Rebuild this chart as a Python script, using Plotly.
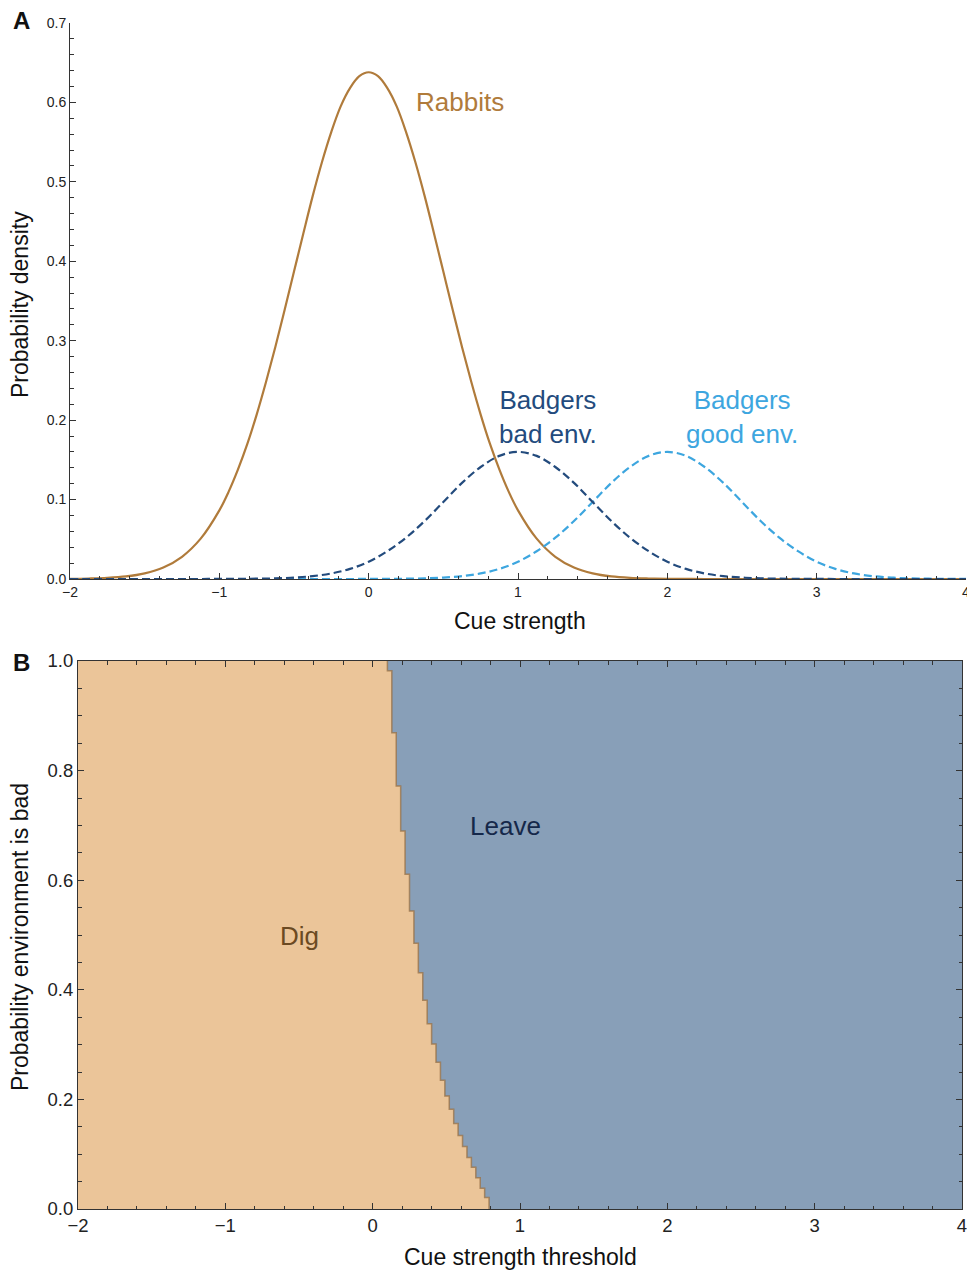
import plotly.graph_objects as go

# ---------------- Panel A data ----------------
rabbit_cue = [-2.0, -1.875, -1.75, -1.625, -1.5, -1.375, -1.25, -1.125, -1.0,
              -0.9375, -0.875, -0.8125, -0.75, -0.6875, -0.625, -0.5625, -0.5,
              -0.4375, -0.375, -0.3125, -0.25, -0.1875, -0.125, -0.0625, 0.0,
              0.0625, 0.125, 0.1875, 0.25, 0.3125, 0.375, 0.4375, 0.5,
              0.5625, 0.625, 0.6875, 0.75, 0.8125, 0.875, 0.9375, 1.0,
              1.125, 1.25, 1.375, 1.5, 1.625, 1.75, 1.875, 2.0,
              2.25, 2.5, 2.75, 3.0, 3.25, 3.5, 3.75, 4.0]
rabbits = [0.0002, 0.0006, 0.0014, 0.0032, 0.0071, 0.0145, 0.0280, 0.0508, 0.0864,
           0.110, 0.138, 0.170, 0.207, 0.248, 0.292, 0.339, 0.387,
           0.435, 0.482, 0.525, 0.563, 0.595, 0.618, 0.633, 0.638,
           0.633, 0.618, 0.595, 0.563, 0.525, 0.482, 0.435, 0.387,
           0.339, 0.292, 0.248, 0.207, 0.170, 0.138, 0.110, 0.0864,
           0.0508, 0.0280, 0.0145, 0.0071, 0.0032, 0.0014, 0.0006, 0.0002,
           0, 0, 0, 0, 0, 0, 0, 0]

cue = [-2.0, -1.875, -1.75, -1.625, -1.5, -1.375, -1.25, -1.125,
       -1.0, -0.875, -0.75, -0.625, -0.5, -0.375, -0.25, -0.125,
       0.0, 0.125, 0.25, 0.375, 0.5, 0.625, 0.75, 0.875,
       1.0, 1.125, 1.25, 1.375, 1.5, 1.625, 1.75, 1.875,
       2.0, 2.125, 2.25, 2.375, 2.5, 2.625, 2.75, 2.875,
       3.0, 3.125, 3.25, 3.375, 3.5, 3.625, 3.75, 3.875, 4.0]

badgers_bad = [0, 0, 0, 0, 0, 0, 0, 0,
               0.0001, 0.0001, 0.0004, 0.0008, 0.0018, 0.0036, 0.0070, 0.0127,
               0.0217, 0.035, 0.052, 0.073, 0.097, 0.121, 0.141, 0.155,
               0.160, 0.155, 0.141, 0.121, 0.097, 0.073, 0.052, 0.035,
               0.0217, 0.0127, 0.0070, 0.0036, 0.0018, 0.0008, 0.0004, 0.0001,
               0.0001, 0, 0, 0, 0, 0, 0, 0, 0]

badgers_good = [0, 0, 0, 0, 0, 0, 0, 0,
                0, 0, 0, 0, 0, 0, 0, 0,
                0.0001, 0.0001, 0.0004, 0.0008, 0.0018, 0.0036, 0.0070, 0.0127,
                0.0217, 0.035, 0.052, 0.073, 0.097, 0.121, 0.141, 0.155,
                0.160, 0.155, 0.141, 0.121, 0.097, 0.073, 0.052, 0.035,
                0.0217, 0.0127, 0.0070, 0.0036, 0.0018, 0.0008, 0.0004, 0.0001, 0.0001]

# ---------------- Panel B data ----------------
p_breaks = [0.0, 0.021, 0.038, 0.057, 0.076, 0.094, 0.114, 0.134, 0.156,
            0.182, 0.206, 0.235, 0.268, 0.301, 0.338, 0.381, 0.431, 0.485,
            0.544, 0.611, 0.690, 0.772, 0.869, 0.982, 1.0]
thresholds = [0.79, 0.76, 0.73, 0.70, 0.67, 0.64, 0.61, 0.58, 0.55, 0.52,
              0.49, 0.46, 0.43, 0.40, 0.37, 0.34, 0.31, 0.28, 0.25, 0.22,
              0.19, 0.16, 0.13, 0.10]

bx, by = [], []
for i, t in enumerate(thresholds):
    bx += [t, t]
    by += [p_breaks[i], p_breaks[i + 1]]

FONT = "Liberation Sans, Arial, Helvetica, sans-serif"
C_RAB = "#B07B3B"
C_BAD = "#234B7D"
C_GOOD = "#3DA6DF"
C_DIG = "#EBC599"
C_LEAVE = "#889FB8"
AX = "#333333"

fig = go.Figure()

# Panel A curves
fig.add_trace(go.Scatter(x=rabbit_cue, y=rabbits, mode="lines",
                         line=dict(color=C_RAB, width=2.2, shape="spline", smoothing=1, simplify=False),
                         xaxis="x", yaxis="y", cliponaxis=False, showlegend=False))
fig.add_trace(go.Scatter(x=cue, y=badgers_good, mode="lines",
                         line=dict(color=C_GOOD, width=2.2, dash="8px,4px", shape="spline",
                                   smoothing=1, simplify=False),
                         xaxis="x", yaxis="y", cliponaxis=False, showlegend=False))
fig.add_trace(go.Scatter(x=cue, y=badgers_bad, mode="lines",
                         line=dict(color=C_BAD, width=2.2, dash="8px,4px", shape="spline",
                                   smoothing=1, simplify=False),
                         xaxis="x", yaxis="y", cliponaxis=False, showlegend=False))

# Panel B regions
fig.add_trace(go.Scatter(x=[-2] + bx + [-2], y=[0] + by + [1], mode="lines", fill="toself",
                         fillcolor=C_DIG, line=dict(width=0, color=C_DIG),
                         xaxis="x2", yaxis="y2", showlegend=False, hoverinfo="skip"))
fig.add_trace(go.Scatter(x=bx + [4, 4], y=by + [1, 0], mode="lines", fill="toself",
                         fillcolor=C_LEAVE, line=dict(width=0, color=C_LEAVE),
                         xaxis="x2", yaxis="y2", showlegend=False, hoverinfo="skip"))
fig.add_trace(go.Scatter(x=bx, y=by, mode="lines", line=dict(color="rgba(150,110,65,0.75)", width=1.5),
                         xaxis="x2", yaxis="y2", showlegend=False, hoverinfo="skip"))

W, H = 967, 1270


def px(xp):
    return xp / W


def py(yp):
    return 1 - yp / H


tickfontA = dict(family=FONT, size=14, color="#222")
tickfontB = dict(family=FONT, size=18.5, color="#222")

common = dict(ticks="inside", ticklen=6, tickcolor=AX, tickwidth=1, showline=True, linecolor=AX,
              linewidth=1, showgrid=False, zeroline=False, automargin=False, ticklabeloverflow="allow")

fig.update_layout(
    width=W, height=H,
    margin=dict(l=0, r=0, t=0, b=0, autoexpand=False),
    paper_bgcolor="white", plot_bgcolor="rgba(0,0,0,0)",
    xaxis=dict(domain=[px(70), px(966)], anchor="y", range=[-2, 4],
               tickvals=[-2, -1, 0, 1, 2, 3, 4], ticktext=["−2", "−1", "0", "1", "2", "3", "4"],
               minor=dict(dtick=0.2, ticks="inside", ticklen=3.5, tickcolor=AX),
               tickfont=tickfontA, **common),
    yaxis=dict(domain=[py(579), py(23)], anchor="x", range=[0, 0.7],
               tickvals=[0, 0.1, 0.2, 0.3, 0.4, 0.5, 0.6, 0.7], tickformat=".1f",
               minor=dict(dtick=0.02, ticks="inside", ticklen=3.5, tickcolor=AX),
               tickfont=tickfontA, **common),
    xaxis2=dict(domain=[px(78), px(962)], anchor="y2", range=[-2, 4], mirror="ticks",
                tickvals=[-2, -1, 0, 1, 2, 3, 4], ticktext=["−2", "−1", "0", "1", "2", "3", "4"],
                minor=dict(dtick=0.2, ticks="inside", ticklen=3.5, tickcolor=AX),
                tickfont=tickfontB, **common),
    yaxis2=dict(domain=[py(1209), py(661)], anchor="x2", range=[0, 1], mirror="ticks",
                tickvals=[0, 0.2, 0.4, 0.6, 0.8, 1.0], tickformat=".1f",
                minor=dict(dtick=0.05, ticks="inside", ticklen=3.5, tickcolor=AX),
                tickfont=tickfontB, **common),
)


def pann(text, xp, yp, size, color="#111", angle=0):
    return dict(text=text, x=px(xp), y=py(yp), xref="paper", yref="paper", showarrow=False,
                xanchor="center", yanchor="middle", textangle=angle,
                font=dict(family=FONT, size=size, color=color))


def dann(text, x, y, xr, yr, color):
    return dict(text=text, x=x, y=y, xref=xr, yref=yr, showarrow=False,
                xanchor="center", yanchor="middle", font=dict(family=FONT, size=26, color=color))


ann = [
    pann("<b>A</b>", 21, 21, 24),
    pann("<b>B</b>", 21, 662, 24),
    pann("Probability density", 20, 305, 23, angle=-90),
    pann("Cue strength", 520, 621, 23),
    pann("Probability environment is bad", 20, 937, 23, angle=-90),
    pann("Cue strength threshold", 520, 1257, 23),
    dann("Rabbits", 0.61, 0.6, "x", "y", C_RAB),
    dann("Badgers<br>bad env.", 1.2, 0.204, "x", "y", C_BAD),
    dann("Badgers<br>good env.", 2.5, 0.204, "x", "y", C_GOOD),
    dann("Leave", 0.9, 0.699, "x2", "y2", "#15284A"),
    dann("Dig", -0.5, 0.498, "x2", "y2", "#6B4A22"),
]
fig.update_layout(annotations=ann)

fig.write_html("out.html")
